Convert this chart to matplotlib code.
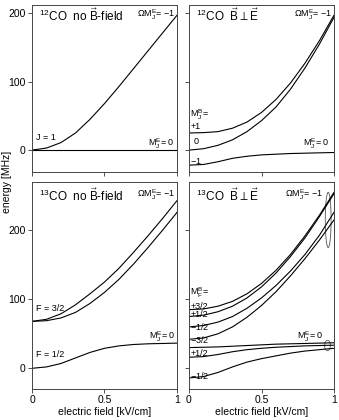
import numpy as np
import matplotlib
matplotlib.use("Agg")
import matplotlib.pyplot as plt
from matplotlib.patches import Ellipse

plt.rcParams['font.family'] = ['Liberation Sans', 'DejaVu Sans']
plt.rcParams['mathtext.fontset'] = 'custom'
plt.rcParams['mathtext.rm'] = 'Liberation Sans'
plt.rcParams['mathtext.it'] = 'Liberation Sans'
plt.rcParams['mathtext.sf'] = 'Liberation Sans'

# electric field [kV/cm]
field = [0.0, 0.1, 0.2, 0.3, 0.4, 0.5, 0.6, 0.7, 0.8, 0.9, 1.0]

# 12CO, no B-field (energy in MHz)
co12_up = [0, 3, 11, 25, 45, 68, 93, 119, 145, 171, 197]
co12_flat = [0, 0, 0, 0, 0, 0, 0, 0, 0, 0, 0]

# 12CO, B perp E
co12b_p1 = [25, 25.5, 27, 32, 41, 55, 74, 98, 127, 160, 197]
co12b_0 = [0, 2, 7, 15, 27, 43, 63, 89, 120, 155, 194]
co12b_m1 = [-22, -21, -17, -12, -9, -7, -6, -5, -4.5, -4, -3.5]

# 13CO, no B-field
co13_a = [68, 71, 79, 92, 108, 125, 145, 168, 192, 217, 243]
co13_b = [68, 69, 73, 81, 94, 110, 129, 151, 175, 200, 226]
co13_f12 = [0, 2, 7, 15, 23, 29, 32.5, 34.5, 35.5, 36, 36.5]

# 13CO, B perp E
co13b_p32 = [85, 86, 90, 97, 108, 123, 142, 165, 192, 222, 255]
co13b_p12 = [75, 77, 82, 90, 102, 118, 138, 162, 189, 220, 253]
co13b_m12 = [60, 62, 67, 75, 87, 102, 120, 141, 165, 193, 226]
co13b_m32 = [42, 44, 50, 60, 74, 91, 111, 134, 159, 186, 215]
co13b_flat = [30, 30.5, 31, 32, 33, 34, 35, 35.5, 36, 36.5, 37]
co13b_lp12 = [16, 17, 20, 24, 27, 29, 30.5, 31.5, 32.5, 33, 33.5]
co13b_lm12 = [-14, -12, -6, 2, 9, 14, 18, 22, 25, 27, 29]

W, H = 339, 420
fig = plt.figure(figsize=(W / 100, H / 100), dpi=100)

def box(x0, y0, x1, y1):
    return [x0 / W, 1 - y1 / H, (x1 - x0) / W, (y1 - y0) / H]

ax_tl = fig.add_axes(box(32, 5, 177, 172))
ax_tr = fig.add_axes(box(189, 5, 334, 172))
ax_bl = fig.add_axes(box(32, 182, 177, 389))
ax_br = fig.add_axes(box(189, 182, 334, 389))

lw = 0.8
fs = 6.5
for ax in [ax_tl, ax_tr, ax_bl, ax_br]:
    ax.set_xlim(0, 1)
    ax.set_xticks([0, 0.5, 1])
    ax.set_xticklabels(["0", "0.5", "1"])
    ax.set_yticks([0, 100, 200])
    ax.tick_params(direction='out', length=3, width=0.6, labelsize=7.5, pad=1.5,
                   color='#333333')
    for s in ax.spines.values():
        s.set_linewidth(0.7)
        s.set_color('#444444')

ax_tl.set_ylim(-32, 212)
ax_tr.set_ylim(-32, 212)
ax_bl.set_ylim(-30, 270)
ax_br.set_ylim(-30, 270)

for ax in [ax_tl, ax_tr]:
    ax.tick_params(labelbottom=False)
for ax in [ax_tr, ax_br]:
    ax.tick_params(labelleft=False)

# top left
ax_tl.plot(field, co12_up, color='k', lw=lw)
ax_tl.plot(field, co12_flat, color='k', lw=lw)
ax_tl.text(0.05, 196, r"$^{12}$CO  no $\vec{\mathrm{B}}$-field", fontsize=8.5, va='center')
ax_tl.text(0.99, 198, r"$\Omega$M$_J^E$= $-$1", fontsize=fs, ha='right', va='center')
ax_tl.text(0.98, 9, r"M$_J^E$= 0", fontsize=fs, ha='right', va='center')
ax_tl.text(0.03, 19, "J = 1", fontsize=fs, va='center')

# top right
for ys in [co12b_p1, co12b_0, co12b_m1]:
    ax_tr.plot(field, ys, color='k', lw=lw)
ax_tr.text(0.05, 196, r"$^{12}$CO  $\vec{\mathrm{B}}\perp\vec{\mathrm{E}}$", fontsize=8.5, va='center')
ax_tr.text(0.99, 198, r"$\Omega$M$_J^E$= $-$1", fontsize=fs, ha='right', va='center')
ax_tr.text(0.97, 9, r"M$_J^E$= 0", fontsize=fs, ha='right', va='center')
ax_tr.text(0.01, 52, r"M$_J^B$=", fontsize=fs, va='center')
ax_tr.text(0.01, 34, "+1", fontsize=fs, va='center')
ax_tr.text(0.03, 12, "0", fontsize=fs, va='center')
ax_tr.text(0.01, -16, "$-$1", fontsize=fs, va='center')

# bottom left
for ys in [co13_a, co13_b, co13_f12]:
    ax_bl.plot(field, ys, color='k', lw=lw)
ax_bl.text(0.05, 250, r"$^{13}$CO  no $\vec{\mathrm{B}}$-field", fontsize=8.5, va='center')
ax_bl.text(0.99, 252, r"$\Omega$M$_J^E$= $-$1", fontsize=fs, ha='right', va='center')
ax_bl.text(0.99, 46, r"M$_J^E$= 0", fontsize=fs, ha='right', va='center')
ax_bl.text(0.03, 86, "F = 3/2", fontsize=fs, va='center')
ax_bl.text(0.03, 20, "F = 1/2", fontsize=fs, va='center')

# bottom right
for ys in [co13b_p32, co13b_p12, co13b_m12, co13b_m32, co13b_flat, co13b_lp12, co13b_lm12]:
    ax_br.plot(field, ys, color='k', lw=lw)
ax_br.text(0.05, 250, r"$^{13}$CO  $\vec{\mathrm{B}}\perp\vec{\mathrm{E}}$", fontsize=8.5, va='center')
ax_br.text(0.93, 252, r"$\Omega$M$_J^E$= $-$1", fontsize=fs, ha='right', va='center')
ax_br.text(0.93, 46, r"M$_J^E$= 0", fontsize=fs, ha='right', va='center')
ax_br.text(0.01, 110, r"M$_F^B$=", fontsize=fs, va='center')
mf_labels = ["+3/2", "+1/2", "$-$1/2", "$-$3/2", "+1/2", "$-$1/2"]
mf_pos = [90, 78, 61, 42, 22, -10]
for lab, yv in zip(mf_labels, mf_pos):
    ax_br.text(0.01, yv, lab, fontsize=fs, va='center')
ax_br.add_patch(Ellipse((0.96, 215), 0.04, 80, fill=False, lw=0.6, color='#555555'))
ax_br.add_patch(Ellipse((0.955, 33), 0.04, 15, fill=False, lw=0.6, color='#555555'))

ax_bl.set_xlabel("electric field [kV/cm]", fontsize=7.5, labelpad=1)
ax_br.set_xlabel("electric field [kV/cm]", fontsize=7.5, labelpad=1)
fig.text(0.022, 1 - 182 / H, "energy [MHz]", rotation=90, fontsize=7.5,
         ha='center', va='center')

fig.savefig("out.png", dpi=100)
